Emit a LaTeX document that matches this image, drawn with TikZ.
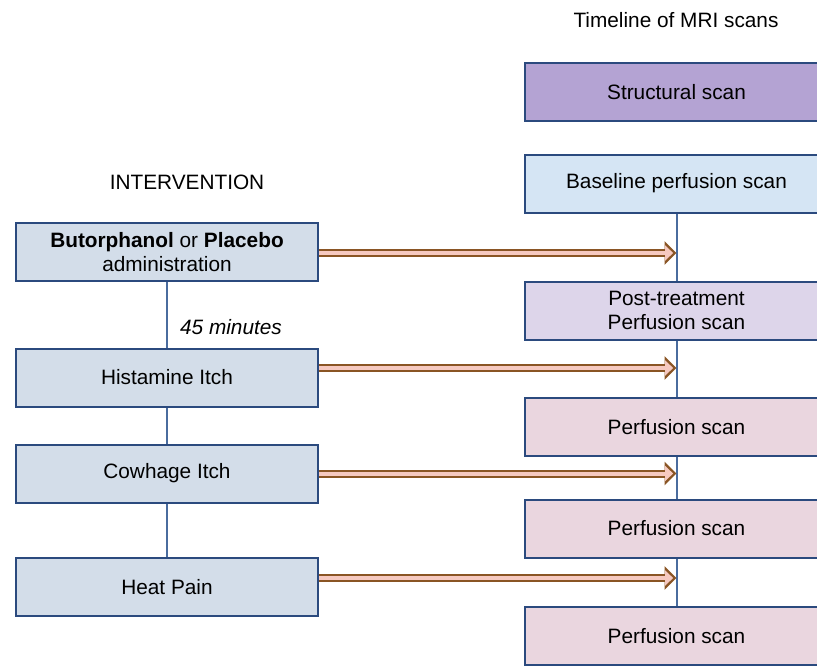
\documentclass[tikz,border=0pt]{standalone}
\usepackage{fontspec}
\setmainfont{Liberation Sans}
\usetikzlibrary{arrows.meta}
\definecolor{boxline}{HTML}{2B4A7E}
\definecolor{linkline}{HTML}{4A6C9E}
\definecolor{interfill}{HTML}{D3DDE9}
\definecolor{structfill}{HTML}{B4A3D3}
\definecolor{basefill}{HTML}{D5E5F4}
\definecolor{postfill}{HTML}{DDD5EA}
\definecolor{perffill}{HTML}{EAD6DF}
\definecolor{arrowbrown}{HTML}{8A5524}
\definecolor{arrowpink}{HTML}{F6C9C0}
\begin{document}
\begin{tikzpicture}[x=1pt, y=-1pt,
	every node/.style={font=\fontsize{20.8}{24}\selectfont, align=center},
	interbox/.style={draw=boxline, line width=2pt, fill=interfill, minimum width=302pt, minimum height=58pt},
	scanbox/.style={draw=boxline, line width=2pt, minimum width=303pt, minimum height=58pt},
	link/.style={draw=linkline, line width=2pt},
	dose/.style={draw=arrowpink, line width=4pt, shorten >=3.4pt,
		-{Triangle[length=8pt 0 0, width=15pt 0 0]},
		preaction={draw=arrowbrown, line width=8pt, shorten >=0pt, -{Triangle[length=12pt 0 0, width=23pt 0 0]}}}]
	\useasboundingbox (0, 0) rectangle (817, 667);
	\clip (0, 0) rectangle (817, 667);
	% titles
	\node (timeline) at (676, 20) {Timeline of MRI scans};
	\node (inter) at (187, 182) {INTERVENTION};
	% scans
	\node[scanbox, fill=structfill] (struct) at (676.5, 92) {Structural scan};
	\node[scanbox, fill=basefill] (base) at (676.5, 183.5) {Baseline perfusion scan};
	\node[scanbox, fill=postfill] (post) at (676.5, 310.5) {Post-treatment\\Perfusion scan};
	\node[scanbox, fill=perffill] (perfa) at (676.5, 427) {Perfusion scan};
	\node[scanbox, fill=perffill] (perfb) at (676.5, 528.5) {Perfusion scan};
	\node[scanbox, fill=perffill] (perfc) at (676.5, 636) {Perfusion scan};
	% interventions
	\node[interbox] (butor) at (167, 252) {\textbf{Butorphanol} or \textbf{Placebo}\\administration};
	\node[interbox] (hist) at (167, 377.5) {Histamine Itch};
	\node[interbox] (cow) at (167, 473.5) {Cowhage Itch};
	\node[interbox] (heat) at (167, 587) {Heat Pain};
	\node (wait) at (231, 327) {\itshape 45 minutes};
	% timelines
	\draw[link] (base.south) -- (post.north);
	\draw[link] (post.south) -- (perfa.north);
	\draw[link] (perfa.south) -- (perfb.north);
	\draw[link] (perfb.south) -- (perfc.north);
	\draw[link] (butor.south) -- (hist.north);
	\draw[link] (hist.south) -- (cow.north);
	\draw[link] (cow.south) -- (heat.north);
	% arrows
	\draw[dose] ([yshift=-1pt]butor.east) -- ([yshift=-1pt]butor.east -| base.south);
	\draw[dose] ([yshift=9.5pt]hist.east) -- ([yshift=9.5pt]hist.east -| base.south);
	\draw[dose] (cow.east) -- (cow.east -| base.south);
	\draw[dose] ([yshift=9pt]heat.east) -- ([yshift=9pt]heat.east -| base.south);
\end{tikzpicture}
\end{document}
